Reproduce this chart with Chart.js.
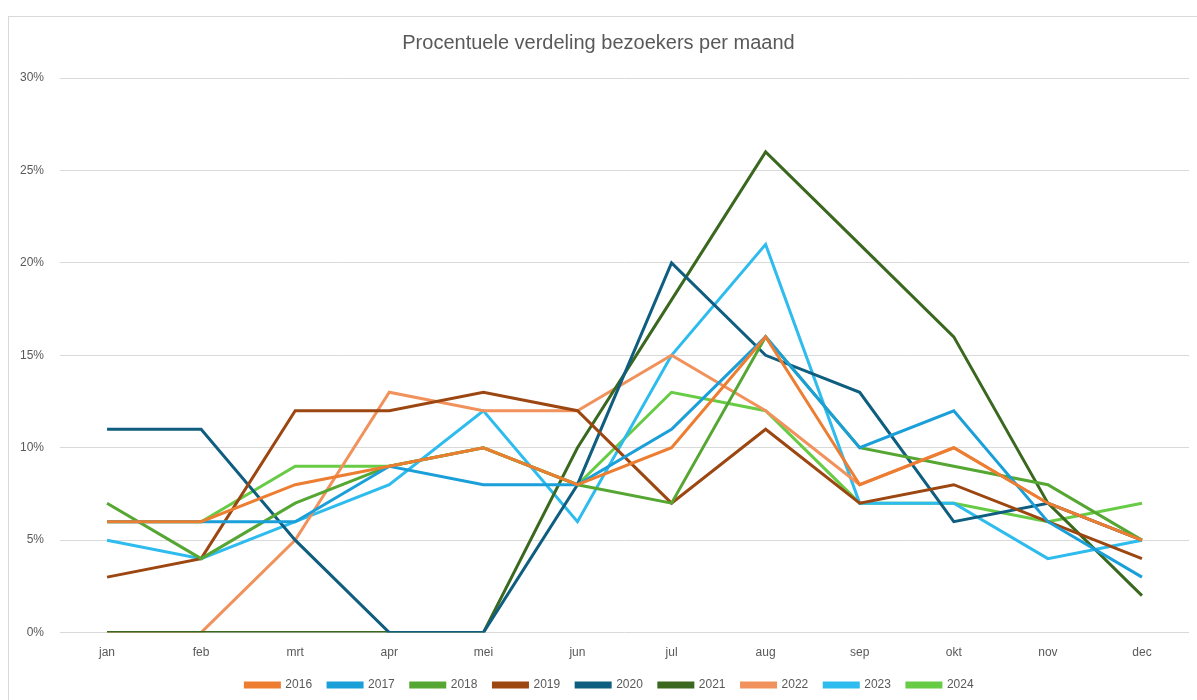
<!DOCTYPE html>
<html>
<head>
<meta charset="utf-8">
<script src="https://cdn.jsdelivr.net/npm/chart.js@4.4.1/dist/chart.umd.min.js"></script>
<style>
  html, body { margin: 0; padding: 0; background: #fff; }
  #frame {
    position: absolute; left: 8px; top: 16px; width: 1200px; height: 700px;
    border: 1px solid #d9d9d9; box-sizing: border-box;
  }
  #wrap { position: absolute; left: 0; top: 0; width: 1197px; height: 700px; }
</style>
</head>
<body>
<div id="frame"></div>
<div id="wrap"><canvas id="grafiek"></canvas></div>
<script>
const maanden = ["jan", "feb", "mrt", "apr", "mei", "jun", "jul", "aug", "sep", "okt", "nov", "dec"];
const yTicks = [0, 5, 10, 15, 20, 25, 30];

// percentage bezoekers per maand
const j2016 = [6, 6, 8, 9, 10, 8, 10, 16, 8, 10, 7, 5];
const j2017 = [6, 6, 6, 9, 8, 8, 11, 16, 10, 12, 6, 3];
const j2018 = [7, 4, 7, 9, 10, 8, 7, 16, 10, 9, 8, 5];
const j2019 = [3, 4, 12, 12, 13, 12, 7, 11, 7, 8, 6, 4];
const j2020 = [11, 11, 5, 0, 0, 8, 20, 15, 13, 6, 7, 5];
const j2021 = [0, 0, 0, 0, 0, 10, 18, 26, 21, 16, 7, 2];
const j2022 = [0, 0, 5, 13, 12, 12, 15, 12, 8, 10, 7, 5];
const j2023 = [5, 4, 6, 8, 12, 6, 15, 21, 7, 7, 4, 5];
const j2024 = [6, 6, 9, 9, 10, 8, 13, 12, 7, 7, 6, 7];

const jaren = ["2016", "2017", "2018", "2019", "2020", "2021", "2022", "2023", "2024"];
const reeksen = [j2016, j2017, j2018, j2019, j2020, j2021, j2022, j2023, j2024];
const kleuren = ["#ED7D31", "#1A9FD9", "#55A632", "#9C4711", "#0F5E80", "#3A681F", "#F1925C", "#2EBBEE", "#68CB45"];

const lettertype = "'Liberation Sans Narrow', 'Liberation Sans', Arial, sans-serif";

const datasets = jaren.map((jaar, i) => ({
  label: jaar,
  data: reeksen[i],
  borderColor: kleuren[i],
  backgroundColor: kleuren[i],
  borderWidth: 3,
  pointRadius: 0,
  tension: 0,
  fill: false,
}));

// legenda en titel iets verschuiven, zoals in het origineel
const verschuiving = {
  id: "verschuiving",
  afterLayout(chart) {
    chart.legend.left += 30;
    chart.legend.top -= 10;
    chart.legend.bottom -= 10;
    chart.titleBlock.left += 4;
    chart.titleBlock.right += 4;
  },
};

const ctx = document.getElementById("grafiek").getContext("2d");
new Chart(ctx, {
  type: "line",
  data: { labels: maanden, datasets: datasets },
  plugins: [verschuiving],
  options: {
    responsive: true,
    maintainAspectRatio: false,
    animation: false,
    layout: { padding: { left: 0, right: 8, top: 0, bottom: -11 } },
    plugins: {
      title: {
        display: true,
        text: "Procentuele verdeling bezoekers per maand",
        color: "#595959",
        font: { family: lettertype, size: 20, weight: "normal" },
        padding: { top: 31, bottom: 23 },
      },
      legend: {
        position: "bottom",
        labels: {
          color: "#595959",
          font: { family: lettertype, size: 12 },
          boxWidth: 34,
          boxHeight: 4,
          padding: 16,
        },
      },
      tooltip: { enabled: false },
    },
    scales: {
      x: {
        offset: true,
        grid: { display: false, drawTicks: false },
        border: { display: false },
        ticks: { color: "#595959", font: { family: lettertype, size: 12 }, padding: 13 },
      },
      y: {
        min: 0,
        max: 30,
        afterFit: (s) => { s.width = 60; },
        afterBuildTicks: (s) => { s.ticks = yTicks.map((v) => ({ value: v })); },
        grid: { color: "#d9d9d9", lineWidth: 1, drawTicks: false },
        border: { display: false },
        ticks: {
          color: "#595959",
          font: { family: lettertype, size: 12 },
          padding: 16,
          callback: (v) => v + "%",
        },
      },
    },
  },
});
</script>
</body>
</html>
